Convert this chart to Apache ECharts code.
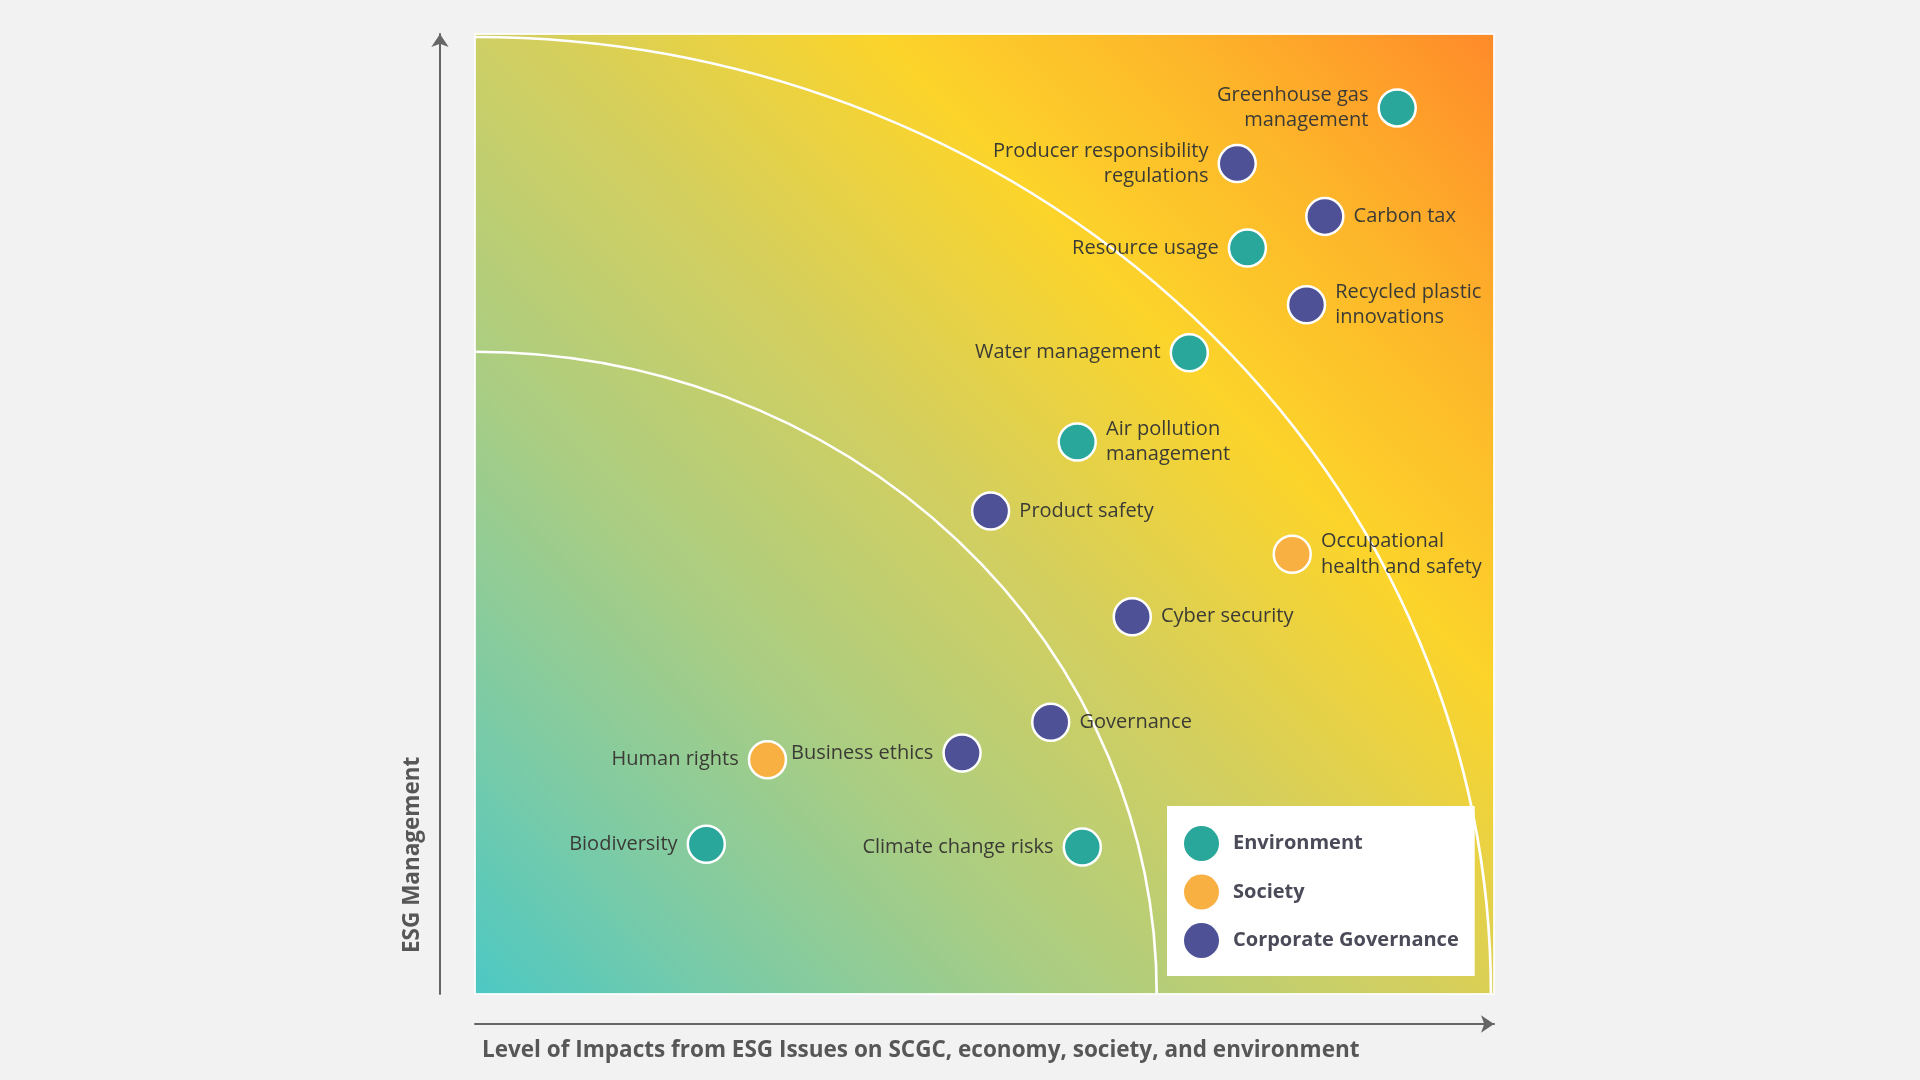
<!DOCTYPE html>
<html>
<head>
<meta charset="utf-8">
<script src="https://cdn.jsdelivr.net/npm/echarts@6/dist/echarts.min.js"></script>
<style>
html,body{margin:0;padding:0;background:#f2f2f2;}
#chart{width:1920px;height:1080px;}
</style>
</head>
<body>
<div id="chart"></div>
<script>
// ---------- data ----------
const issues = [
  "Greenhouse gas\nmanagement",
  "Producer responsibility\nregulations",
  "Carbon tax",
  "Resource usage",
  "Recycled plastic\ninnovations",
  "Water management",
  "Air pollution\nmanagement",
  "Product safety",
  "Occupational\nhealth and safety",
  "Cyber security",
  "Governance",
  "Business ethics",
  "Human rights",
  "Biodiversity",
  "Climate change risks"
];
const impactLevel     = [90.5, 74.8, 83.4, 75.8, 81.6, 70.1, 59.1, 50.6, 80.2, 64.5, 56.5, 47.8, 28.7, 22.7, 59.6];
const managementLevel = [92.3, 86.5, 81.0, 77.7, 71.8, 66.8, 57.5, 50.3, 45.8, 39.3, 28.3, 25.1, 24.4, 15.6, 15.3];
const issueGroup = [
  "Environment", "Corporate Governance", "Corporate Governance", "Environment",
  "Corporate Governance", "Environment", "Environment", "Corporate Governance",
  "Society", "Corporate Governance", "Corporate Governance", "Corporate Governance",
  "Society", "Environment", "Environment"
];
const groups = ["Environment", "Society", "Corporate Governance"];
const zoneRadii = [66.9, 99.7];
const xAxisTitle = "Level of Impacts from ESG Issues on SCGC, economy, society, and environment";
const yAxisTitle = "ESG Management";

// ---------- styling ----------
const groupColors = {
  "Environment": "#28A79A",
  "Society": "#F9B042",
  "Corporate Governance": "#4F5197"
};
const rightLabelled = new Set([
  "Carbon tax", "Recycled plastic\ninnovations", "Air pollution\nmanagement",
  "Product safety", "Occupational\nhealth and safety", "Cyber security", "Governance"
]);

const chart = echarts.init(document.getElementById('chart'));

const scatterSeries = groups.map(g => ({
  name: g,
  type: 'scatter',
  z: 3,
  symbolSize: 37,
  itemStyle: { color: groupColors[g], borderColor: '#ffffff', borderWidth: 2.5, opacity: 1 },
  emphasis: { disabled: true },
  label: {
    show: true,
    formatter: '{b}',
    color: '#3b3b36',
    fontFamily: 'Open Sans',
    fontSize: 20,
    lineHeight: 25.5,
    distance: 9
  },
  data: issues
    .map((n, i) => ({ n, i }))
    .filter(d => issueGroup[d.i] === g)
    .map(d => ({
      name: d.n,
      value: [impactLevel[d.i], managementLevel[d.i]],
      label: { position: rightLabelled.has(d.n) ? 'right' : 'left' }
    }))
}));

const arcSeries = {
  type: 'custom',
  z: 2,
  silent: true,
  data: zoneRadii.map(r => [r]),
  renderItem: function (params, api) {
    const r = api.value(0);
    const c = api.coord([0, 0]);
    const px = api.coord([r, 0]);
    const py = api.coord([0, r]);
    const rx = px[0] - c[0];
    const ry = c[1] - py[1];
    return {
      type: 'arc',
      shape: { cx: c[0], cy: c[1], r: ry, startAngle: -Math.PI / 2, endAngle: 0, clockwise: true },
      scaleX: rx / ry,
      originX: c[0],
      originY: c[1],
      style: { stroke: '#ffffff', lineWidth: 2.5, fill: 'none' }
    };
  }
};

const option = {
  backgroundColor: '#f2f2f2',
  animation: false,
  grid: {
    left: 475, top: 34, width: 1019, height: 960,
    show: true,
    borderColor: 'rgba(255,255,255,0.85)',
    borderWidth: 2,
    backgroundColor: {
      type: 'linear', x: 0, y: 1, x2: 1, y2: 0,
      colorStops: [
        { offset: 0.00, color: '#4CC8C4' },
        { offset: 0.15, color: '#7ECBA4' },
        { offset: 0.30, color: '#A8CD84' },
        { offset: 0.50, color: '#D4CF5E' },
        { offset: 0.68, color: '#FCD42A' },
        { offset: 0.83, color: '#FDB62A' },
        { offset: 1.00, color: '#FF8A2A' }
      ]
    }
  },
  xAxis: {
    type: 'value', min: 0, max: 100, offset: 30,
    axisLine: { show: true, onZero: false, lineStyle: { color: '#666', width: 2 }, symbol: ['none', 'arrow'], symbolSize: [13, 13] },
    axisTick: { show: false }, axisLabel: { show: false }, splitLine: { show: false },
    name: xAxisTitle,
    nameLocation: 'start',
    nameGap: -7,
    nameRotate: 0,
    nameTextStyle: {
      fontFamily: 'Open Sans', fontWeight: 'bold', fontSize: 22.5, color: '#575757',
      align: 'left', verticalAlign: 'top', lineHeight: 54
    }
  },
  yAxis: {
    type: 'value', min: 0, max: 100, offset: 35,
    axisLine: { show: true, onZero: false, lineStyle: { color: '#666', width: 2 }, symbol: ['none', 'arrow'], symbolSize: [13, 13] },
    axisTick: { show: false }, axisLabel: { show: false }, splitLine: { show: false },
    name: yAxisTitle,
    nameLocation: 'start',
    nameGap: -41,
    nameRotate: 90,
    nameTextStyle: {
      fontFamily: 'Open Sans', fontWeight: 'bold', fontSize: 22.5, color: '#575757',
      align: 'left', verticalAlign: 'bottom', lineHeight: 54
    }
  },
  legend: {
    orient: 'vertical',
    left: 1167, top: 806,
    data: groups,
    selectedMode: false,
    backgroundColor: '#ffffff',
    padding: [20, 16, 18, 17],
    itemWidth: 35, itemHeight: 35, itemGap: 13.5,
    icon: 'circle',
    itemStyle: { borderWidth: 0 },
    textStyle: {
      fontFamily: 'Open Sans', fontWeight: 'bold', fontSize: 20, color: '#4a4a58',
      width: 223, padding: [0, 0, 0, 9]
    }
  },
  series: [arcSeries].concat(scatterSeries)
};

chart.setOption(option);
</script>
</body>
</html>
